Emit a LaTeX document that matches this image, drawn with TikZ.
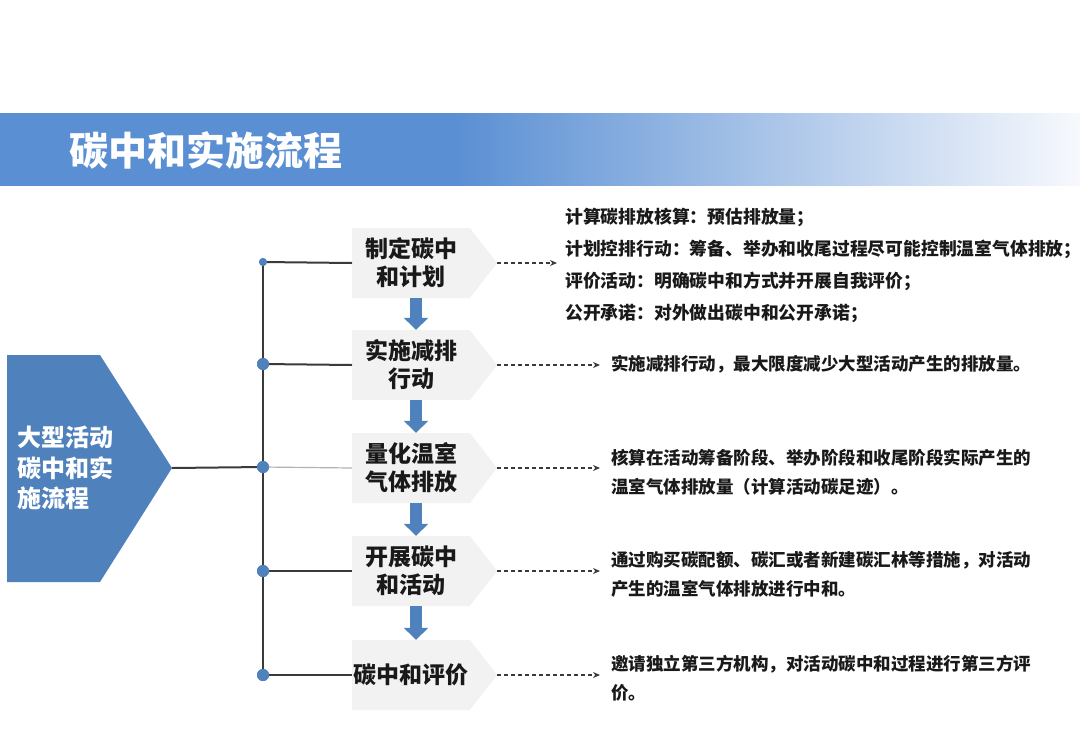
\documentclass[tikz,border=0pt]{standalone}
\usepackage{fontspec}
\newfontfamily\cjk{Noto Sans CJK SC}
\usetikzlibrary{shapes.symbols,arrows.meta}
\definecolor{bannerblue}{HTML}{5A8FD3}
\definecolor{bannerend}{HTML}{F7F9FD}
\definecolor{boxblue}{HTML}{4F81BD}
\definecolor{stepgray}{HTML}{F2F2F2}
\definecolor{linegray}{HTML}{3A3A3A}
\pgfdeclarehorizontalshading{bannershade}{100bp}{color(0bp)=(bannerblue);
  color(46bp)=(bannerblue); color(75bp)=(bannerend); color(100bp)=(bannerend)}

\begin{document}
\begin{tikzpicture}[x=1pt,y=-1pt,
  stepbox/.style={signal, signal to=east, signal pointer angle=104, fill=stepgray,
    minimum width=145pt, minimum height=70pt, inner sep=0pt, anchor=west,
    align=center, text=black!90, font=\cjk\bfseries\fontsize{23}{28}\selectfont},
  dot/.style={circle, fill=boxblue, inner sep=0pt, minimum size=12pt},
  desc/.style={anchor=west, inner sep=0pt, align=left, text=black!90,
    font=\cjk\bfseries\fontsize{17.5}{29}\selectfont},
  trunk/.style={linegray, line width=2pt},
  dasharrow/.style={linegray, line width=1.3pt, dash pattern=on 4pt off 3pt,
    -{Stealth[length=7pt,width=6pt]}},
  flowarrow/.style={boxblue, line width=12pt, -{Triangle[width=24pt,length=12pt]}}]
\useasboundingbox (0,0) rectangle (1080,748);

% title banner
\shade[shading=bannershade] (0,113) rectangle (1080,185);
\node[anchor=west, text=white, font=\cjk\bfseries\fontsize{39}{41}\selectfont]
  (title) at (66,150) {碳中和实施流程};

% main block
\fill[boxblue] (7,355) -- (100,355) -- (172,468) -- (100,582) -- (7,582) -- cycle;
\coordinate (maintip) at (172,468);
\node[anchor=west, inner sep=0pt, align=left, text=white,
  font=\cjk\bfseries\fontsize{24}{30.5}\selectfont]
  (main) at (17,468) {大型活动\\碳中和实\\施流程};

% steps
\node[stepbox] (b1) at (352,263) {制定碳中\\和计划};
\node[stepbox] (b2) at (352,365) {实施减排\\行动};
\node[stepbox] (b3) at (352,468) {量化温室\\气体排放};
\node[stepbox] (b4) at (352,571) {开展碳中\\和活动};
\node[stepbox] (b5) at (352,675) {碳中和评价};

% dots on the trunk
\node[dot, minimum size=8pt] (d1) at (263,262) {};
\node[dot] (d2) at (263,364) {};
\node[dot] (d3) at (263,467) {};
\node[dot] (d4) at (263,571) {};
\node[dot] (d5) at (263,675) {};

\draw[trunk] (d1.center) -- (d5.center);
\draw[trunk] (maintip) -- (d3);
\draw[trunk] (d1) -- (b1.west);
\draw[trunk] (d2) -- (b2.west);
\draw[gray!60, line width=1.2pt] (d3) -- (b3.west);
\draw[trunk] (d4) -- (b4.west);
\draw[trunk] (d5) -- (b5.west);
\node[dot, minimum size=8pt] at (d1) {};
\foreach \d in {d2,d3,d4,d5} \node[dot] at (\d) {};

\draw[flowarrow] ([xshift=5pt]b1.south) -- ([xshift=5pt]b2.north);
\draw[flowarrow] ([xshift=5pt]b2.south) -- ([xshift=5pt]b3.north);
\draw[flowarrow] ([xshift=5pt]b3.south) -- ([xshift=5pt]b4.north);
\draw[flowarrow] ([xshift=5pt]b4.south) -- ([xshift=5pt]b5.north);

% descriptions
\node[desc, font=\cjk\bfseries\fontsize{17.8}{32}\selectfont] (t1) at (565,265)
  {计算碳排放核算：预估排放量；\\计划控排行动：筹备、举办和收尾过程尽可能控制温室气体排放；\\评价活动：明确碳中和方式并开展自我评价；\\公开承诺：对外做出碳中和公开承诺；};
\node[desc] (t2) at (611,364) {实施减排行动，最大限度减少大型活动产生的排放量。};
\node[desc] (t3) at (611,472) {核算在活动筹备阶段、举办阶段和收尾阶段实际产生的\\温室气体排放量（计算活动碳足迹）。};
\node[desc] (t4) at (611,574) {通过购买碳配额、碳汇或者新建碳汇林等措施，对活动\\产生的温室气体排放进行中和。};
\node[desc] (t5) at (611,678) {邀请独立第三方机构，对活动碳中和过程进行第三方评\\价。};

\draw[dasharrow, shorten >=8pt] (b1.east) -- (b1.east -| t1.west);
\draw[dasharrow, shorten >=11pt] (b2.east) -- (b2.east -| t2.west);
\draw[dasharrow, shorten >=11pt] (b3.east) -- (b3.east -| t3.west);
\draw[dasharrow, shorten >=11pt] (b4.east) -- (b4.east -| t4.west);
\draw[dasharrow, shorten >=11pt] (b5.east) -- (b5.east -| t5.west);
\end{tikzpicture}
\end{document}
